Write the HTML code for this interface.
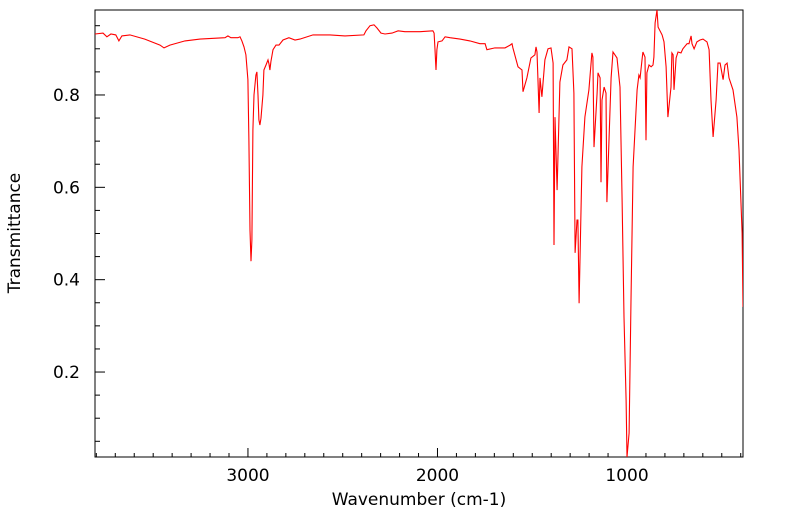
<!DOCTYPE html>
<html><head><meta charset="utf-8"><style>
body{margin:0;background:#fff;}
svg{display:block;font-family:"DejaVu Sans","Liberation Sans",sans-serif;}
</style></head><body>
<svg id="chart" width="799" height="516">
<defs><clipPath id="clip"><rect x="95" y="10" width="648" height="447"/></clipPath></defs>
<rect x="95" y="10" width="648" height="447" fill="#fff" stroke="#000" stroke-width="1"/>
<g id="ticks"></g>
<path id="line" fill="none" stroke="#ff0000" stroke-width="1.1" clip-path="url(#clip)"/>
<text x="419" y="505" text-anchor="middle" font-size="17">Wavenumber (cm-1)</text>
<text x="20" y="233" text-anchor="middle" font-size="17" transform="rotate(-90 20 233)">Transmittance</text>
</svg>
<script>
const wavenumbers=[3807,3765,3744,3723,3697,3681,3665,3623,3544,3464,3443,3412,3332,3253,3121,3106,3090,3053,3042,3032,3021,3011,3000,2995,2989,2984,2979,2974,2968,2958,2953,2947,2942,2937,2931,2921,2916,2905,2894,2889,2884,2879,2868,2852,2836,2815,2784,2752,2726,2657,2567,2488,2388,2377,2356,2335,2319,2298,2277,2240,2208,2172,2092,2024,2018,2013,2008,2003,1997,1976,1960,1934,1881,1829,1776,1749,1739,1697,1644,1617,1607,1602,1575,1554,1549,1528,1507,1486,1480,1475,1464,1459,1449,1433,1417,1401,1390,1385,1380,1369,1354,1338,1317,1306,1290,1280,1274,1264,1259,1253,1238,1222,1201,1185,1180,1174,1158,1153,1142,1137,1132,1121,1111,1106,1084,1074,1053,1037,1026,1016,1005,1000,989,979,968,947,937,931,921,916,905,900,895,884,873,863,858,852,842,836,815,805,794,784,768,763,757,752,741,731,715,705,683,673,662,657,646,631,615,599,578,567,557,546,530,520,509,493,483,472,462,441,420,409,393,388];
const transmittance=[0.932,0.934,0.926,0.932,0.930,0.917,0.928,0.930,0.921,0.908,0.902,0.908,0.917,0.921,0.924,0.928,0.924,0.924,0.926,0.917,0.904,0.887,0.833,0.702,0.507,0.440,0.486,0.724,0.800,0.843,0.850,0.800,0.746,0.735,0.750,0.800,0.854,0.865,0.876,0.867,0.854,0.872,0.898,0.908,0.908,0.919,0.924,0.919,0.921,0.930,0.930,0.928,0.930,0.939,0.950,0.952,0.945,0.934,0.932,0.934,0.939,0.937,0.937,0.939,0.934,0.898,0.854,0.898,0.915,0.917,0.926,0.924,0.921,0.917,0.911,0.911,0.898,0.902,0.902,0.908,0.911,0.902,0.861,0.854,0.807,0.837,0.880,0.887,0.904,0.893,0.761,0.837,0.796,0.876,0.900,0.902,0.869,0.475,0.752,0.594,0.828,0.865,0.876,0.904,0.900,0.804,0.458,0.529,0.529,0.349,0.644,0.752,0.811,0.891,0.882,0.687,0.804,0.848,0.837,0.611,0.789,0.817,0.804,0.568,0.837,0.893,0.880,0.817,0.572,0.319,0.139,0.016,0.068,0.356,0.644,0.811,0.843,0.837,0.876,0.893,0.882,0.702,0.848,0.865,0.861,0.865,0.882,0.956,0.984,0.947,0.930,0.915,0.861,0.752,0.817,0.891,0.887,0.811,0.880,0.893,0.891,0.900,0.911,0.911,0.928,0.911,0.900,0.915,0.919,0.921,0.915,0.898,0.789,0.709,0.789,0.869,0.869,0.833,0.865,0.869,0.837,0.811,0.752,0.681,0.501,0.341,0.297];
const yTicks=[0.2,0.4,0.6,0.8];
const xTicks=[3000,2000,1000];
const X0=95,X1=743,Y0=10,Y1=457,WMAX=3807,WMIN=388,TMAX=0.984,TMIN=0.016;
function sx(w){return X0+(WMAX-w)/(WMAX-WMIN)*(X1-X0);}
function sy(t){return Y0+(TMAX-t)/(TMAX-TMIN)*(Y1-Y0);}
const NS='http://www.w3.org/2000/svg';
let d='';
for(let i=0;i<wavenumbers.length;i++){d+=(i?'L':'M')+sx(wavenumbers[i]).toFixed(1)+' '+sy(transmittance[i]).toFixed(1);}
document.getElementById('line').setAttribute('d',d);
const g=document.getElementById('ticks');
function ln(x1,y1,x2,y2){const l=document.createElementNS(NS,'line');l.setAttribute('x1',x1);l.setAttribute('y1',y1);l.setAttribute('x2',x2);l.setAttribute('y2',y2);l.setAttribute('stroke','#000');


g.appendChild(l);}
function tx(x,y,s,a){const t=document.createElementNS(NS,'text');t.setAttribute('x',x);t.setAttribute('y',y);t.setAttribute('text-anchor',a);t.setAttribute('font-size','17');t.textContent=s;


g.appendChild(t);}
for(let w=400;w<=3800;w+=100){const x=sx(w);const major=w%1000===0;ln(x,Y1,x,Y1-(major?9:4));}
xTicks.forEach(w=>tx(sx(w),481,String(w),'middle'));
for(let k=1;k<=19;k++){const t=k*0.05;if(t<TMIN||t>TMAX)continue;const y=sy(t);const major=k%4===0;ln(X0,y,X0+(major?10:5),y);}
yTicks.forEach(t=>tx(80,sy(t)+6,t.toFixed(1),'end'));
</script>
</body></html>
